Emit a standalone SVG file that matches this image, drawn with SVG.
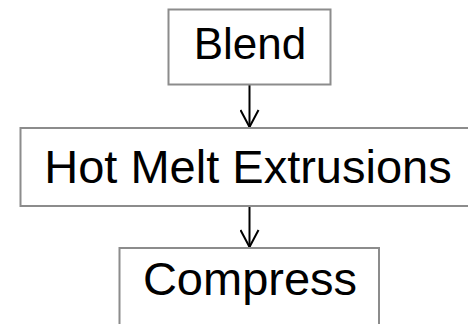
<svg xmlns="http://www.w3.org/2000/svg" width="468" height="324" viewBox="0 0 468 324">
<style>
.box{fill:#fff;stroke:#8c8c8c;stroke-width:2}
.lbl{font-family:"Liberation Sans",Arial,sans-serif;fill:#000;text-anchor:middle}
.conn{stroke:#000;stroke-width:2;fill:none}
</style>
<defs>
<marker id="arr" viewBox="0 0 20 20" refX="18" refY="10" markerWidth="20" markerHeight="20" markerUnits="userSpaceOnUse" orient="auto">
<path d="M1,1 L18,10 L1,19" fill="none" stroke="#000" stroke-width="2"/>
</marker>
</defs>
<rect width="468" height="324" fill="#fff"/>
<g id="connectors">
<line class="conn" x1="249.5" y1="85" x2="249.5" y2="127" marker-end="url(#arr)"/>
<line class="conn" x1="249.5" y1="206" x2="249.5" y2="247" marker-end="url(#arr)"/>
</g>
<g id="blend">
<rect class="box" x="168.5" y="9.5" width="162" height="75"/>
<text class="lbl" x="250" y="59" font-size="44">Blend</text>
</g>
<g id="hme">
<rect class="box" x="20.5" y="128" width="460" height="78"/>
<text class="lbl" x="248" y="183" font-size="47">Hot Melt Extrusions</text>
</g>
<g id="compress">
<rect class="box" x="119.5" y="248" width="259.5" height="100"/>
<text class="lbl" x="250" y="295" font-size="47">Compress</text>
</g>
</svg>
